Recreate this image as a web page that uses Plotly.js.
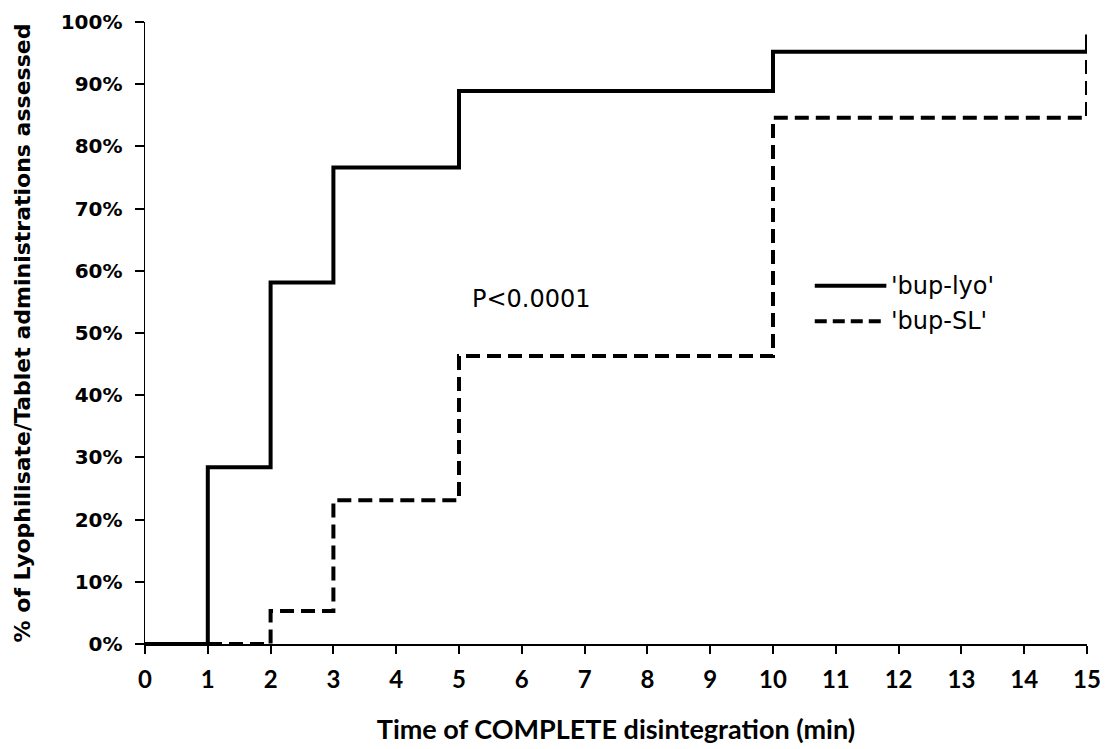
<!DOCTYPE html>
<html><head><meta charset="utf-8">
<script src="https://cdn.plot.ly/plotly-3.0.1.min.js"></script>
<style>html,body{margin:0;padding:0;background:#fff}</style>
</head><body>
<div id="chart" style="width:1106px;height:749px"></div>
<script>
const lyoTime = [0, 1, 2, 3, 5, 10, 15];
const lyoPct  = [0, 0.284, 0.581, 0.766, 0.889, 0.952, 0.98];
const slTime  = [0, 2, 3, 5, 10, 15];
const slPct   = [0, 0.053, 0.231, 0.463, 0.846, 0.98];
const xTicks  = [0,1,2,3,4,5,6,7,8,9,10,11,12,13,14,15];
const seriesNames = ["'bup-lyo'", "'bup-SL'"];
const pText = "P<0.0001";

const lineStyles = [
  {shape: 'hv', color: '#000', width: 4},
  {shape: 'hv', color: '#000', width: 4, dash: '14px,7px'}
];

const traces = [
  {x: lyoTime, y: lyoPct, name: seriesNames[0], type: 'scatter', mode: 'lines',
   line: lineStyles[0], cliponaxis: false, showlegend: false},
  {x: slTime, y: slPct, name: seriesNames[1], type: 'scatter', mode: 'lines',
   line: lineStyles[1], cliponaxis: false, showlegend: false}
];

// custom legend (line sample + label), placed in paper coordinates
const legY = [0.576, 0.519];
const legShapes = legY.map((yy, i) => ({
  type: 'line', xref: 'paper', yref: 'paper', x0: 0.711, x1: 0.787, y0: yy, y1: yy,
  line: {color: '#000', width: 4, dash: i === 0 ? 'solid' : '12px,6px'}
}));
const legAnnots = legY.map((yy, i) => ({
  xref: 'paper', yref: 'paper', x: 0.790, y: yy, xanchor: 'left', yanchor: 'middle',
  text: seriesNames[i], showarrow: false,
  font: {size: 24, family: '"DejaVu Sans", sans-serif', color: '#000'}
}));

const layout = {
  width: 1106, height: 749,
  margin: {l: 145, r: 19, t: 22, b: 105},
  paper_bgcolor: '#fff', plot_bgcolor: '#fff',
  font: {family: 'Lato, "Open Sans", sans-serif', color: '#000'},
  showlegend: false,
  xaxis: {range: [0, 15], tickvals: xTicks, ticktext: xTicks.map(String),
          showgrid: false, zeroline: false, showline: true, linecolor: '#000', linewidth: 1.5,
          ticks: 'outside', ticklen: 8, tickwidth: 2, tickcolor: '#000', ticklabelstandoff: 6,
          tickfont: {size: 24, family: 'Lato, sans-serif', weight: 'bold'},
          title: {text: 'Time of COMPLETE disintegration (min)', standoff: 28,
                  font: {size: 27, family: 'Lato, sans-serif', weight: 'bold'}}},
  yaxis: {range: [0, 1], dtick: 0.1, tick0: 0, tickformat: '.0%',
          showgrid: false, zeroline: false, showline: true, linecolor: '#000', linewidth: 1.5,
          ticks: 'outside', ticklen: 9, tickwidth: 2, tickcolor: '#000', ticklabelstandoff: 8,
          tickfont: {size: 20, family: '"DejaVu Sans", sans-serif', weight: 'bold'},
          title: {text: '% of Lyophilisate/Tablet administrations assessed', standoff: 24,
                  font: {size: 22, family: '"DejaVu Sans", sans-serif', weight: 'bold'}}},
  shapes: legShapes,
  annotations: [{x: 6.16, y: 0.555, xref: 'x', yref: 'y', text: pText, showarrow: false,
                 font: {size: 24, family: '"DejaVu Sans", sans-serif', color: '#000'}}].concat(legAnnots)
};

Plotly.newPlot('chart', traces, layout, {displayModeBar: false, staticPlot: true});
</script>
</body></html>
